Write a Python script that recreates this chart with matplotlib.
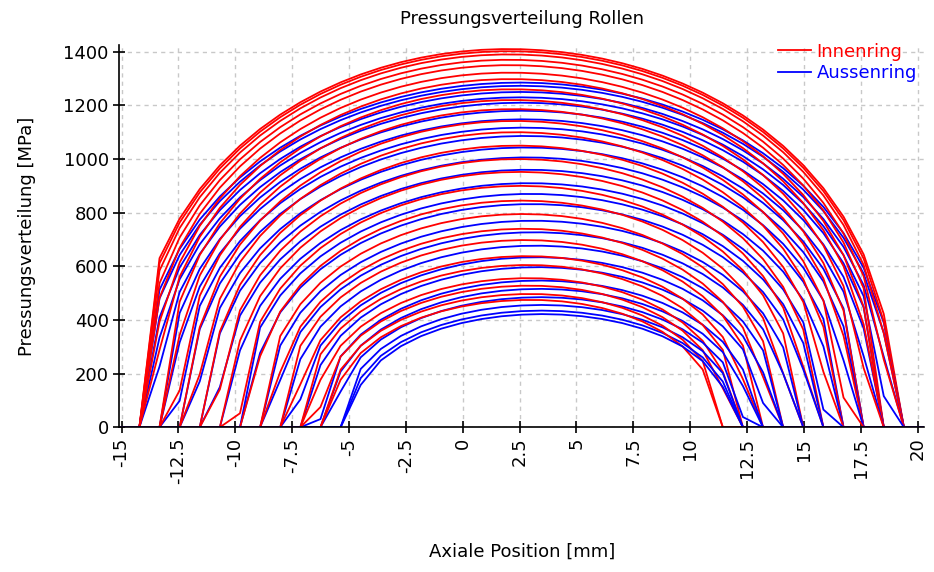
import numpy as np
import matplotlib
matplotlib.use("Agg")
import matplotlib.pyplot as plt

# slice positions along the roller axis [mm]
x_slices = np.linspace(-15.1, 20.28, 41)
roller_start = -14.215
roller_end = 19.395

# Innenring: peak pressure [MPa], centre [mm], left / right half contact length [mm]
inner_peak = [1410, 1402, 1390, 1370, 1350, 1322, 1298, 1260, 1220, 1186, 1142, 1100, 1050,
              1000, 952, 900, 845, 795, 740, 698, 638, 605, 556, 528, 497, 475]
inner_center = [2.00, 2.01, 2.02, 2.04, 2.06, 2.09, 2.12, 2.16, 2.20, 2.24, 2.29, 2.33, 2.39,
                2.44, 2.49, 2.55, 2.60, 2.66, 2.72, 2.76, 2.83, 2.86, 2.91, 2.94, 2.98, 3.00]
inner_left = [16.60, 16.53, 16.43, 16.27, 16.10, 15.87, 15.67, 15.35, 15.02, 14.73, 14.36, 14.01, 13.60,
              13.18, 12.78, 12.35, 11.89, 11.47, 11.01, 10.66, 10.16, 9.88, 9.48, 9.24, 8.98, 8.80]
inner_right = [17.00, 16.92, 16.81, 16.62, 16.43, 16.17, 15.95, 15.59, 15.21, 14.89, 14.48, 14.08, 13.61,
               13.14, 12.69, 12.20, 11.68, 11.21, 10.69, 10.30, 9.73, 9.42, 8.96, 8.70, 8.41, 8.20]

# Aussenring
outer_peak = [1285, 1273, 1250, 1230, 1210, 1180, 1148, 1117, 1086, 1043, 1006, 960, 910,
              870, 832, 770, 727, 677, 634, 597, 547, 516, 485, 456, 435, 422]
outer_center = [2.50, 2.51, 2.54, 2.56, 2.59, 2.62, 2.66, 2.69, 2.73, 2.78, 2.82, 2.88, 2.93,
                2.98, 3.02, 3.10, 3.15, 3.20, 3.25, 3.30, 3.36, 3.39, 3.43, 3.46, 3.48, 3.50]
outer_left = [16.80, 16.68, 16.46, 16.26, 16.07, 15.78, 15.47, 15.16, 14.86, 14.44, 14.08, 13.64, 13.15,
              12.76, 12.39, 11.79, 11.37, 10.88, 10.46, 10.10, 9.62, 9.31, 9.01, 8.73, 8.53, 8.40]
outer_right = [16.50, 16.39, 16.17, 15.98, 15.79, 15.50, 15.20, 14.90, 14.61, 14.20, 13.85, 13.41, 12.94,
               12.56, 12.20, 11.61, 11.20, 10.72, 10.31, 9.96, 9.49, 9.19, 8.90, 8.62, 8.42, 8.30]

x_ticks = [-15, -12.5, -10, -7.5, -5, -2.5, 0, 2.5, 5, 7.5, 10, 12.5, 15, 17.5, 20]
y_ticks = [0, 200, 400, 600, 800, 1000, 1200, 1400]


def profile(peak, center, left, right):
    half = np.where(x_slices < center, left, right)
    r = 1.0 - ((x_slices - center) / half) ** 2
    p = peak * np.clip(r, 0, None) ** 0.42
    p[(x_slices <= roller_start + 1e-6) | (x_slices >= roller_end - 1e-6)] = 0.0
    return p


plt.rcParams["font.family"] = ["DejaVu Sans"]
fig = plt.figure(figsize=(9.34, 5.72), dpi=100)
ax = fig.add_axes([0.1277, 0.253, 0.8616, 0.6683])

for i in range(len(inner_peak)):
    ax.plot(x_slices, profile(inner_peak[i], inner_center[i], inner_left[i], inner_right[i]),
            color="#ff0000", lw=1.3, label="Innenring" if i == 0 else None)
    ax.plot(x_slices, profile(outer_peak[i], outer_center[i], outer_left[i], outer_right[i]),
            color="#0000ff", lw=1.3, label="Aussenring" if i == 0 else None)

ax.set_xlim(-15.1, 20.28)
ax.set_ylim(0, 1425)
ax.set_xticks(x_ticks)
ax.set_xticklabels([f"{t:g}" for t in x_ticks], rotation=90)
ax.set_yticks(y_ticks)
ax.grid(True, color="#c8c8c8", linestyle=(0, (3, 3)), lw=1)
ax.set_axisbelow(True)
for s in ["top", "right"]:
    ax.spines[s].set_visible(False)
ax.spines["left"].set_linewidth(1.2)
ax.spines["bottom"].set_linewidth(1.2)
ax.tick_params(direction="inout", length=9, width=1.2, labelsize=13, pad=3)

ax.set_title("Pressungsverteilung Rollen", fontsize=13, pad=15)
ax.set_xlabel("Axiale Position [mm]", fontsize=13, labelpad=42)
ax.set_ylabel("Pressungsverteilung [MPa]", fontsize=13, labelpad=20)

leg = ax.legend(loc="upper right", bbox_to_anchor=(1.0, 1.025), frameon=False, fontsize=13,
                handlelength=1.8, handletextpad=0.3, labelspacing=0.2, borderaxespad=0,
                labelcolor="linecolor")

fig.savefig("out.png", dpi=100)
